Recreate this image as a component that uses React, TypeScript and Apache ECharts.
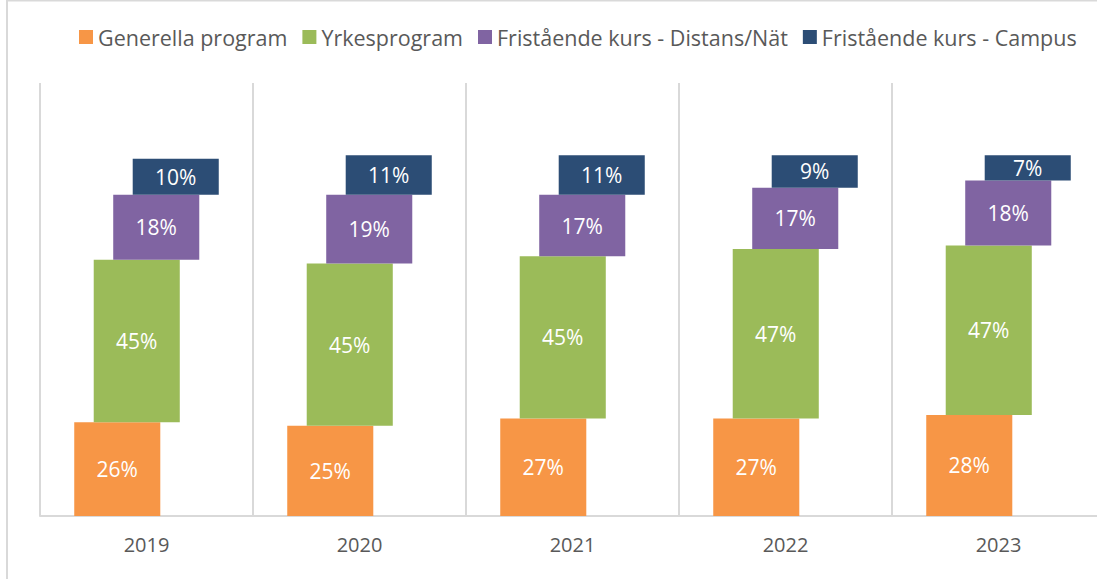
import React, { useEffect, useRef } from "react";
import * as echarts from "echarts";

const years = ["2019", "2020", "2021", "2022", "2023"];
const seriesNames = [
  "Generella program",
  "Yrkesprogram",
  "Fristående kurs - Distans/Nät",
  "Fristående kurs - Campus",
];
const generella = [26, 25, 27, 27, 28];
const yrkes = [45, 45, 45, 47, 47];
const distans = [18, 19, 17, 17, 18];
const campus = [10, 11, 11, 9, 7];
const colors = ["#F79646", "#9BBB59", "#8064A2", "#2C4D75"];

const FONT = "'Open Sans', 'Noto Sans', sans-serif";

export default function App() {
  const ref = useRef<HTMLDivElement>(null);
  useEffect(() => {
    if (!ref.current) return;
    const chart = echarts.init(ref.current, undefined, { renderer: "svg" });
    const all = [generella, yrkes, distans, campus];
    const cum = years.map(() => 0);
    const series = all.map((vals, k) => {
      const data = vals.map((v, i) => {
        const start = cum[i];
        cum[i] += v;
        return [i, start, cum[i], v];
      });
      return {
        type: "custom",
        name: seriesNames[k],
        itemStyle: { color: colors[k] },
        data,
        renderItem: (params: any, api: any) => {
          const idx = api.value(0);
          const s = api.value(1);
          const e = api.value(2);
          const v = api.value(3);
          const p0 = api.coord([idx, s]);
          const p1 = api.coord([idx, e]);
          const band = api.size([1, 0])[0];
          const w = band * 0.404;
          const step = band * 0.0915;
          const cx = p0[0] + (k - 1.5) * step;
          const x = cx - w / 2;
          const y = p1[1];
          const h = p0[1] - p1[1];
          return {
            type: "group",
            children: [
              {
                type: "rect",
                shape: { x, y, width: w, height: h },
                style: { fill: colors[k] },
              },
              {
                type: "text",
                x: cx,
                y: y + h / 2,
                style: {
                  text: v + "%",
                  fill: "#ffffff",
                  font: `21px ${FONT}`,
                  align: "center",
                  verticalAlign: "middle",
                },
              },
            ],
          };
        },
      };
    });

    chart.setOption({
      animation: false,
      backgroundColor: "#ffffff",
      graphic: [
        {
          type: "rect",
          shape: { x: 7, y: 0.5, width: 1300, height: 1000 },
          style: { fill: "none", stroke: "#d9d9d9", lineWidth: 2 },
          silent: true,
          z: -1,
        },
      ],
      legend: {
        data: seriesNames,
        left: 74,
        top: 21,
        icon: "rect",
        itemWidth: 14,
        itemHeight: 14,
        itemGap: 15,
        textStyle: { color: "#595959", fontSize: 21.5, fontFamily: FONT },
      },
      grid: { left: 40, right: 5, top: 83, bottom: 63 },
      xAxis: {
        type: "category",
        data: years,
        boundaryGap: true,
        axisLine: { show: true, lineStyle: { color: "#d9d9d9", width: 2 } },
        axisTick: { show: false },
        splitLine: { show: true, lineStyle: { color: "#d9d9d9", width: 2 } },
        axisLabel: {
          color: "#595959",
          fontSize: 20,
          fontFamily: FONT,
          margin: 18,
        },
      },
      yAxis: {
        type: "value",
        min: 0,
        max: 120,
        show: false,
        splitLine: { show: false },
      },
      series,
    });
    return () => chart.dispose();
  }, []);

  return (
    <div
      style={{
        position: "fixed",
        left: 0,
        top: 0,
        width: 1097,
        height: 579,
        overflow: "hidden",
        background: "#fff",
      }}
    >
      <div ref={ref} style={{ width: 1110, height: 579 }} />
    </div>
  );
}
